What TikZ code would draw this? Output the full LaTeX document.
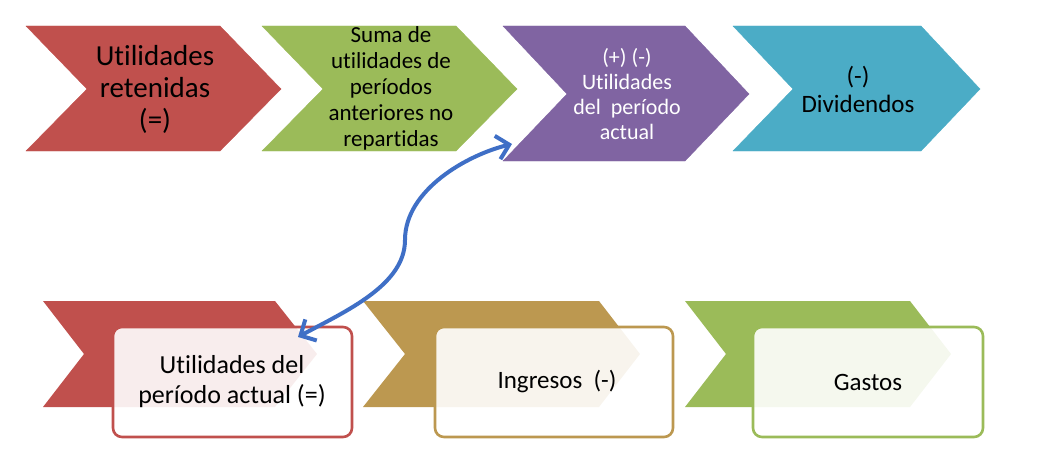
\documentclass[tikz,border=0pt]{standalone}
\usepackage{fontspec}
\setmainfont[Ligatures=NoCommon]{Carlito}
\usepackage{xcolor}
\usepackage{tikz}
\usetikzlibrary{arrows.meta,calc}

\definecolor{redacc}{HTML}{C0504D}
\definecolor{greenacc}{HTML}{9BBB59}
\definecolor{purpleacc}{HTML}{8064A2}
\definecolor{tealacc}{HTML}{4BACC6}
\definecolor{tanacc}{HTML}{BC9850}
\definecolor{arrowblue}{HTML}{3F6FC6}

\begin{document}
\begin{tikzpicture}[x=1pt, y=-1pt,
    chev/.style={fill=#1, draw=#1},
    band/.style={fill=#1, draw=none},
    box/.style={draw=#1, line width=2.6pt, rounded corners=9pt, fill=white, fill opacity=0.9},
    lbl/.style={align=center, inner sep=0pt},
    flow/.style={draw=arrowblue, line width=4pt,
      {Straight Barb[length=12pt,width=24pt]}-{Straight Barb[length=12pt,width=24pt]}}]
    \useasboundingbox (0,0) rectangle (1047,460);

    % top row
    \draw[chev=redacc] (26,26) -- (220,26) -- (281,89) -- (220,151) -- (26,151) -- (87,89) -- cycle;
    \draw[chev=greenacc] (262,26) -- (456,26) -- (517,89) -- (456,151) -- (262,151) -- (323,89) -- cycle;
    \draw[chev=purpleacc] (503,26) -- (685,26) -- (749,94) -- (685,161) -- (503,161) -- (567,94) -- cycle;
    \draw[chev=tealacc] (733,26) -- (921,26) -- (980,89) -- (921,151) -- (733,151) -- (793,89) -- cycle;

    \node[lbl, font=\fontsize{29}{32}\selectfont] (retenidas) at (155,89) {Utilidades\\retenidas\\(=)};
    \node[lbl, font=\fontsize{23}{26}\selectfont] (anteriores) at (391,88) {Suma de\\utilidades de\\períodos\\anteriores no\\repartidas};
    \node[lbl, font=\fontsize{22}{25}\selectfont, text=white] (periodo) at (627,94) {(+) (-)\\Utilidades\\del\ \ período\\actual};
    \node[lbl, font=\fontsize{25}{28}\selectfont] (dividendos) at (858,89) {(-)\\Dividendos};

    % bottom row
    \fill[band=redacc] (43,301) -- (275,301) -- (317,354) -- (275,407) -- (43,407) -- (84,354) -- cycle;
    \fill[band=tanacc] (363,301) -- (599,301) -- (640,354) -- (599,407) -- (363,407) -- (405,354) -- cycle;
    \fill[band=greenacc] (685,301) -- (910,301) -- (951,354) -- (910,407) -- (685,407) -- (726,354) -- cycle;

    \draw[box=redacc] (113,327) rectangle (352,437);
    \draw[box=tanacc] (435,327) rectangle (673,437);
    \draw[box=greenacc] (753,327) rectangle (983,437);

    \node[lbl, font=\fontsize{26}{30}\selectfont] (actual) at (232,382) {Utilidades del\\período actual (=)};
    \node[lbl, font=\fontsize{25}{28}\selectfont] (ingresos) at (557,382) {Ingresos\ \ (-)};
    \node[lbl, font=\fontsize{25}{28}\selectfont] (gastos) at (868,382) {Gastos};

    % link
    \coordinate (lowend) at ($(actual)+(66,-45)$);
    \coordinate (bend) at (405,240);
    \coordinate (highend) at ($(periodo)+(-115,50)$);
    \draw[flow] (lowend) .. controls +(48,-26) and +(0,45) .. (bend)
        .. controls +(0,-50) and +(-45,11) .. (highend);
\end{tikzpicture}
\end{document}
